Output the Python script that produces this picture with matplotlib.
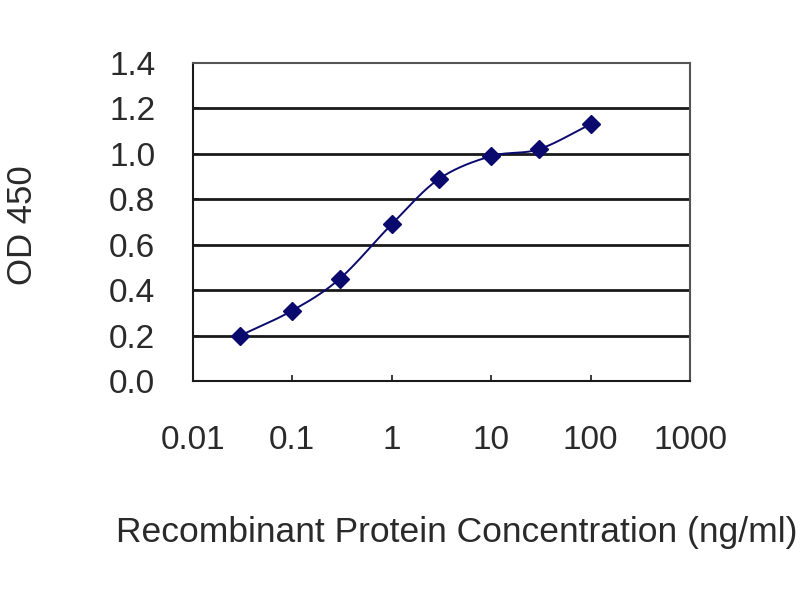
import numpy as np
import matplotlib
matplotlib.use("Agg")
import matplotlib.pyplot as plt
from matplotlib.ticker import FixedLocator, FixedFormatter, NullLocator

conc = [0.03, 0.1, 0.3, 1, 3, 10, 30, 100]
od = [0.20, 0.31, 0.45, 0.69, 0.89, 0.99, 1.02, 1.13]
x_ticks = [0.01, 0.1, 1, 10, 100, 1000]
x_tick_labels = ["0.01", "0.1", "1", "10", "100", "1000"]
y_ticks = [0.0, 0.2, 0.4, 0.6, 0.8, 1.0, 1.2, 1.4]
y_tick_labels = ["0.0", "0.2", "0.4", "0.6", "0.8", "1.0", "1.2", "1.4"]

plt.rcParams['font.family'] = ['Liberation Sans', 'DejaVu Sans']
text_color = '#2a2a2a'
line_color = '#0a0a6e'

fig = plt.figure(figsize=(8, 6), dpi=100)
ax = fig.add_axes([0.241, 0.365, 0.6215, 0.53])

# smoothed line (Catmull-Rom in log-x space, like a spreadsheet smoothed line)
lx = np.log10(conc)
yy = np.array(od)
P = np.column_stack([lx, yy])
Pext = np.vstack([2 * P[0] - P[1], P, 2 * P[-1] - P[-2]])
curve = []
for i in range(1, len(Pext) - 2):
    p0, p1, p2, p3 = Pext[i - 1], Pext[i], Pext[i + 1], Pext[i + 2]
    t = np.linspace(0, 1, 30)[:, None]
    seg = 0.5 * ((2 * p1) + (-p0 + p2) * t + (2 * p0 - 5 * p1 + 4 * p2 - p3) * t ** 2
                 + (-p0 + 3 * p1 - 3 * p2 + p3) * t ** 3)
    curve.append(seg)
curve = np.vstack(curve)
ax.plot(10 ** curve[:, 0], curve[:, 1], color=line_color, lw=1.4, zorder=3)
ax.plot(conc, od, linestyle='none', marker='D', markersize=9.5, color=line_color, zorder=4)

ax.set_xscale('log')
ax.set_xlim(0.01, 1000)
ax.set_ylim(0, 1.4)
ax.xaxis.set_major_locator(FixedLocator(x_ticks))
ax.xaxis.set_major_formatter(FixedFormatter(x_tick_labels))
ax.xaxis.set_minor_locator(NullLocator())
ax.yaxis.set_major_locator(FixedLocator(y_ticks))
ax.yaxis.set_major_formatter(FixedFormatter(y_tick_labels))

for y in y_ticks[1:-1]:
    ax.axhline(y, color='#1a1a1a', lw=2.0, zorder=1)

for s in ax.spines.values():
    s.set_color('#1a1a1a')
    s.set_linewidth(1.5)
ax.spines['top'].set_color('#555555')
ax.spines['right'].set_color('#555555')

ax.tick_params(axis='x', direction='in', length=4, width=1.2, pad=32,
               labelsize=24, labelcolor=text_color, color='#1a1a1a')
ax.tick_params(axis='y', direction='in', length=4, width=1.2, pad=27,
               labelsize=24, labelcolor=text_color, color='#1a1a1a')

fig.text(0.571, 0.113, "Recombinant Protein Concentration (ng/ml)", ha='center', va='center',
         fontsize=25.5, color=text_color)
fig.text(0.028, 0.625, "OD 450", ha='center', va='center', rotation=90,
         fontsize=25, color=text_color)

fig.savefig("out.png", dpi=100)
